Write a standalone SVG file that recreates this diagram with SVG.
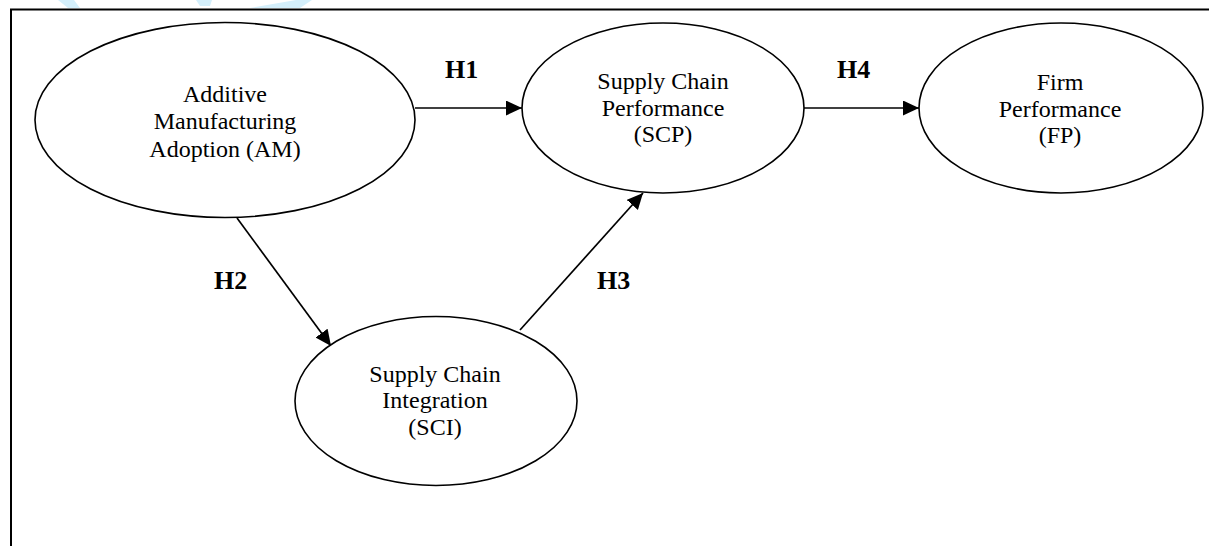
<svg xmlns="http://www.w3.org/2000/svg" width="1209" height="546" viewBox="0 0 1209 546">
<style>
.node ellipse{fill:#fff;stroke:#000;stroke-width:1.6}
.lbl{font-family:"Liberation Serif","Times New Roman",serif;font-size:24px;fill:#000;text-anchor:middle}
.hyp{font-family:"Liberation Serif","Times New Roman",serif;font-size:26px;font-weight:bold;fill:#000}
.edge{stroke:#000;stroke-width:1.7;fill:none;marker-end:url(#arr)}
</style>
<defs>
<marker id="arr" markerUnits="userSpaceOnUse" markerWidth="18" markerHeight="16" refX="16" refY="7.5" orient="auto">
<path d="M0,0 L16,7.5 L0,15 Z" fill="#000"/>
</marker>
</defs>
<rect width="1209" height="546" fill="#fff"/>
<g id="watermark" fill="#d4effb">
<polygon points="58,0 74,0 80,8 68,8"/>
<polygon points="196,0 212,0 210,6 200,6"/>
<polygon points="250,8 296,0 312,0 300,8"/>
</g>
<g id="frame" stroke="#000" stroke-width="2" fill="none">
<path d="M11,546 V9.5 H1209"/>
</g>
<g id="connectors">
<line class="edge" x1="415" y1="108" x2="522" y2="108"/>
<line class="edge" x1="804" y1="108" x2="919" y2="108"/>
<line class="edge" x1="237" y1="218" x2="331" y2="346"/>
<line class="edge" x1="520" y1="330" x2="643" y2="193"/>
<text class="hyp" x="445" y="78">H1</text>
<text class="hyp" x="837" y="78">H4</text>
<text class="hyp" x="214" y="289">H2</text>
<text class="hyp" x="597" y="289">H3</text>
</g>
<g id="AM" class="node">
<ellipse cx="225" cy="120" rx="190" ry="97.5"/>
<text class="lbl" x="225" y="102">Additive</text>
<text class="lbl" x="225" y="129">Manufacturing</text>
<text class="lbl" x="225" y="157">Adoption (AM)</text>
</g>
<g id="SCP" class="node">
<ellipse cx="663" cy="108" rx="141" ry="85"/>
<text class="lbl" x="663" y="89">Supply Chain</text>
<text class="lbl" x="663" y="116">Performance</text>
<text class="lbl" x="663" y="142">(SCP)</text>
</g>
<g id="FP" class="node">
<ellipse cx="1061" cy="108" rx="142" ry="85"/>
<text class="lbl" x="1060" y="90">Firm</text>
<text class="lbl" x="1060" y="117">Performance</text>
<text class="lbl" x="1060" y="143">(FP)</text>
</g>
<g id="SCI" class="node">
<ellipse cx="436" cy="401" rx="141" ry="84.5"/>
<text class="lbl" x="435" y="382">Supply Chain</text>
<text class="lbl" x="435" y="408">Integration</text>
<text class="lbl" x="435" y="435">(SCI)</text>
</g>
</svg>
